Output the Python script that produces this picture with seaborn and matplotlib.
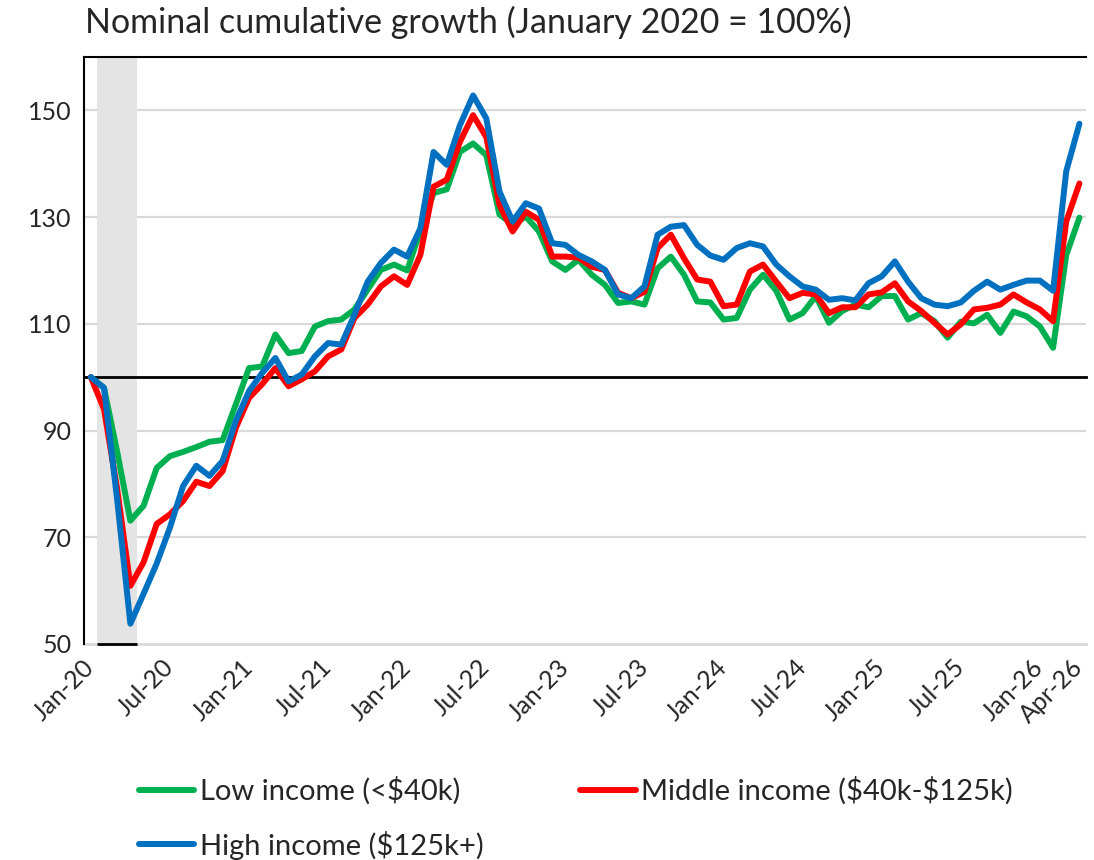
import numpy as np
import pandas as pd
import matplotlib
matplotlib.use("Agg")
import matplotlib.pyplot as plt
import seaborn as sns

# Monthly categories, Jan 2020 .. Apr 2026
months = pd.date_range("2020-01-01", "2026-04-01", freq="MS")
month_labels = [d.strftime("%b-%y") for d in months]

# Cumulative nominal growth, January 2020 = 100
low_income = [
    100.0, 98.0, 86.0, 73.1, 75.9, 83.0, 85.2, 86.0, 86.9, 87.9, 88.2, 94.9,
    101.7, 102.0, 108.0, 104.5, 104.9, 109.5, 110.5, 110.8, 112.7, 116.4, 120.1, 121.1,
    120.0, 127.5, 134.5, 135.2, 142.2, 143.8, 141.6, 130.5, 128.6, 130.1, 127.3, 121.7,
    120.1, 122.0, 119.2, 117.3, 113.9, 114.2, 113.6, 120.4, 122.6, 119.2, 114.2, 114.0,
    110.8, 111.1, 116.4, 119.2, 116.2, 110.8, 112.0, 115.2, 110.2, 112.4, 113.6, 113.1,
    115.2, 115.2, 110.8, 112.0, 110.5, 107.4, 110.4, 110.1, 111.7, 108.3, 112.3, 111.4,
    109.5, 105.5, 122.9, 129.9,
]
middle_income = [
    100.0, 94.0, 79.0, 60.9, 65.3, 72.5, 74.3, 76.8, 80.4, 79.6, 82.4, 90.5,
    96.1, 98.7, 101.7, 98.3, 99.6, 101.1, 103.9, 105.2, 111.1, 113.6, 117.0, 118.9,
    117.3, 122.9, 135.7, 137.0, 144.1, 149.1, 145.0, 132.3, 127.3, 131.0, 129.5, 122.6,
    122.6, 122.4, 120.7, 120.1, 115.8, 114.8, 116.0, 124.2, 126.7, 122.3, 118.3, 117.9,
    113.3, 113.6, 119.8, 121.1, 117.9, 114.8, 115.8, 115.5, 112.0, 113.1, 113.1, 115.5,
    115.9, 117.6, 114.2, 112.4, 110.2, 108.0, 109.9, 112.7, 113.0, 113.6, 115.5, 114.0,
    112.7, 110.5, 129.2, 136.3,
]
high_income = [
    100.0, 98.0, 77.0, 53.8, 59.4, 65.1, 71.8, 79.6, 83.4, 81.5, 84.3, 91.8,
    97.4, 100.8, 103.6, 99.2, 100.5, 103.9, 106.4, 106.1, 111.7, 117.9, 121.4, 123.9,
    122.6, 127.9, 142.2, 139.8, 147.2, 152.8, 148.5, 134.8, 129.2, 132.6, 131.6, 125.1,
    124.8, 122.9, 121.7, 120.1, 115.5, 114.8, 117.0, 126.7, 128.2, 128.5, 124.8, 122.8,
    122.0, 124.2, 125.1, 124.5, 121.1, 118.9, 117.0, 116.4, 114.5, 114.8, 114.4, 117.6,
    118.9, 121.7, 117.9, 114.8, 113.6, 113.3, 114.0, 116.2, 117.9, 116.4, 117.3, 118.1,
    118.1, 116.2, 138.6, 147.5,
]

series_names = ["Low income (<$40k)", "Middle income ($40k-$125k)", "High income ($125k+)"]
series_colors = ["#00B050", "#FF0000", "#0070C0"]

# Recession months (Feb-Apr 2020)
recession = ["Feb-20", "Apr-20"]

# Axis labels shown below the chart
shown_labels = ["Jan-20", "Jul-20", "Jan-21", "Jul-21", "Jan-22", "Jul-22", "Jan-23",
                "Jul-23", "Jan-24", "Jul-24", "Jan-25", "Jul-25", "Jan-26", "Apr-26"]
y_ticks = [50, 70, 90, 110, 130, 150]

sns.set_style("white")
plt.rcParams["font.family"] = ["Lato", "DejaVu Sans"]

pos = np.arange(len(months))
df = pd.DataFrame({
    "pos": np.tile(pos, 3),
    "value": low_income + middle_income + high_income,
    "series": np.repeat(series_names, len(months)),
})

fig = plt.figure(figsize=(10.94, 8.60), dpi=100)
ax = fig.add_axes([0.077, 0.2512, 0.9157, 0.6825])

grid_color = "#D9D9D9"

# recession shading
r0 = month_labels.index(recession[0]) - 0.5
r1 = month_labels.index(recession[1]) + 0.5
ax.axvspan(r0, r1, color="#E4E4E4", lw=0, zorder=1)

for yv in y_ticks[1:]:
    ax.axhline(yv, color=grid_color, lw=1.6, zorder=0)

sns.lineplot(data=df, x="pos", y="value", hue="series", hue_order=series_names,
             palette=series_colors, lw=4.3, ax=ax, legend=False, zorder=3)

ax.set_xlim(-0.5, len(months) - 0.5)
ax.set_ylim(50, 160)
ax.set_yticks(y_ticks)
ax.set_yticklabels([str(v) for v in y_ticks])
ax.tick_params(axis="y", length=0, labelsize=18, pad=9)
ax.set_xlabel("")
ax.set_ylabel("")

# horizontal axis crosses at 100, tick marks between half-year groups
ax.spines["bottom"].set_position(("data", 100))
ax.spines["bottom"].set_color("black")
ax.spines["bottom"].set_linewidth(2.0)
ax.spines["bottom"].set_zorder(2)
ax.spines["left"].set_color("black")
ax.spines["left"].set_linewidth(1.5)
ax.spines["top"].set_color("black")
ax.spines["top"].set_linewidth(1.5)
ax.spines["right"].set_visible(False)
ax.set_xticks(np.arange(-0.5, len(months) - 1, 6))
ax.set_xticklabels([])
ax.tick_params(axis="x", direction="out", length=5, width=1.5, color="black")

# recession bar base
ax.hlines(50, r0, r1, color="black", lw=2.0, zorder=4, clip_on=False)

# category labels along the bottom edge
sec = ax.secondary_xaxis("bottom")
sec.set_xticks([month_labels.index(m) for m in shown_labels])
sec.set_xticklabels(shown_labels)
sec.tick_params(length=0, labelsize=18, pad=14)
sec.spines["bottom"].set_color(grid_color)
sec.spines["bottom"].set_linewidth(2.0)
for lab in sec.get_xticklabels():
    lab.set_rotation(45)
    lab.set_ha("right")
    lab.set_va("center")
    lab.set_rotation_mode("anchor")

fig.text(0.078, 0.974, "Nominal cumulative growth (January 2020 = 100%)",
         fontsize=24.5, va="center", ha="left")

handles = [plt.Line2D([], [], color=c, lw=4.3) for c in series_colors]
legend_labels = [s.replace("$", r"\$") for s in series_names]
order = [0, 2, 1]
fig.legend([handles[i] for i in order], [legend_labels[i] for i in order],
           ncol=2, loc="upper left", bbox_to_anchor=(0.127, 0.097),
           frameon=False, fontsize=21, handlelength=1.9, handletextpad=0.2,
           columnspacing=3.3, labelspacing=0.88, borderaxespad=0, borderpad=0)

fig.savefig("out.png", dpi=100)
